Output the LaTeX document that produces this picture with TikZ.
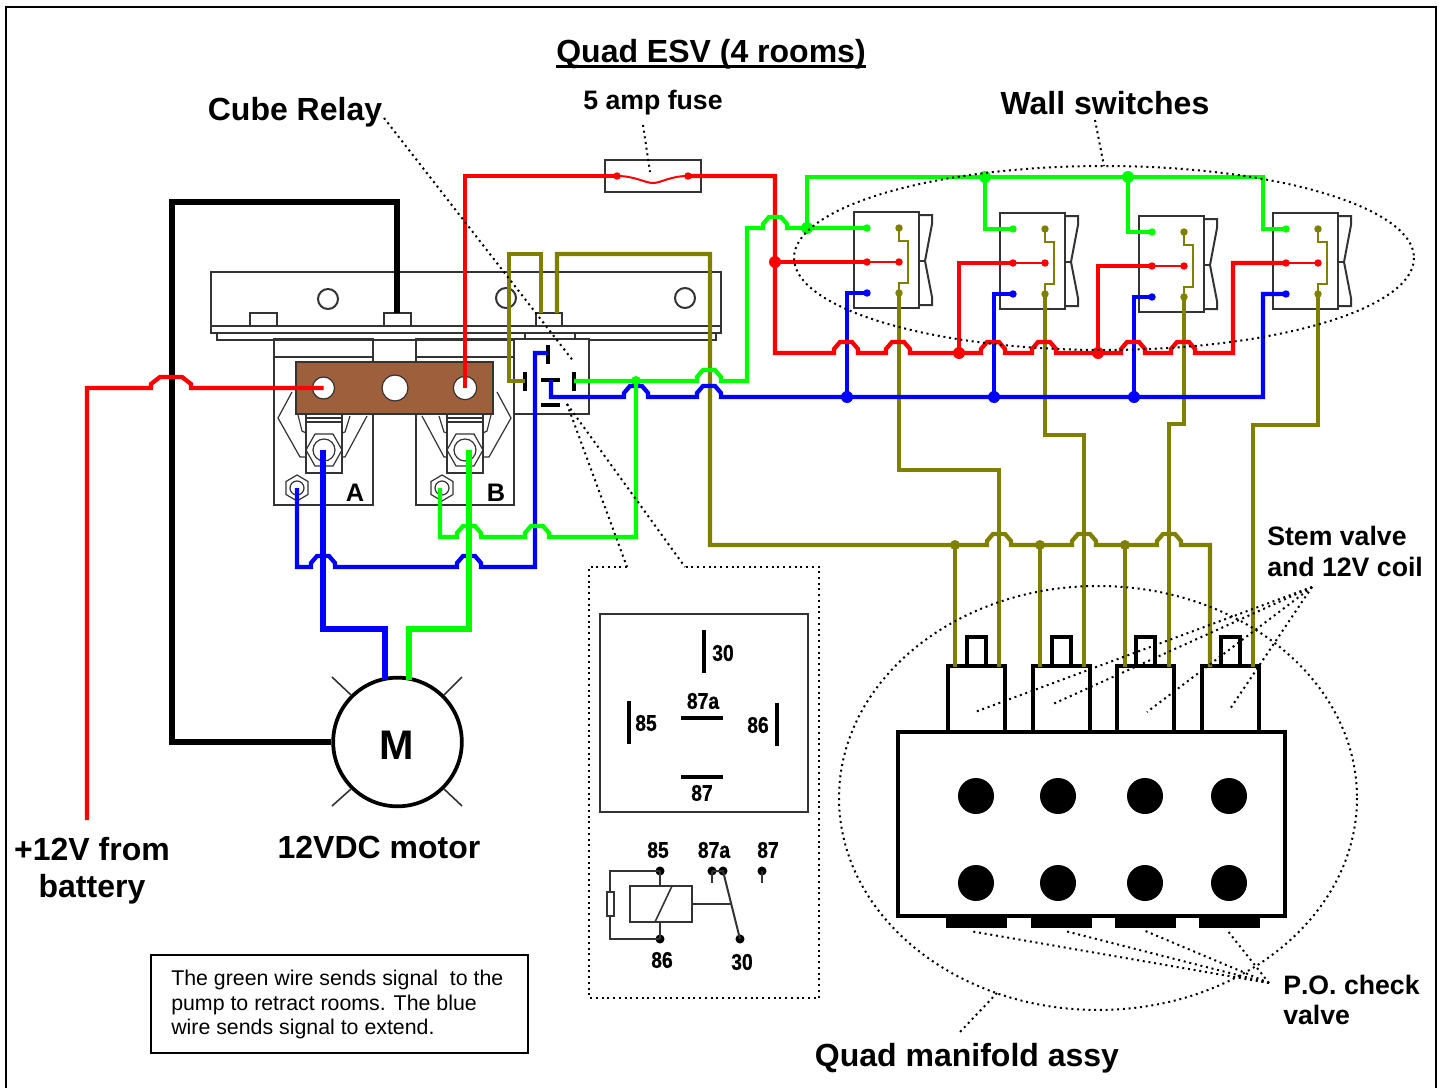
\documentclass[tikz,border=0pt]{standalone}
\usepackage{fontspec}
\setmainfont{Liberation Sans}
\newfontfamily\relayf[FakeStretch=0.85,FakeBold=0.8,UprightFont=* Bold]{Liberation Sans}
\definecolor{wred}{HTML}{FF0000}
\definecolor{wgreen}{HTML}{00FF00}
\definecolor{wblue}{HTML}{0000FF}
\definecolor{wolive}{HTML}{808000}
\definecolor{copper}{HTML}{9E5F3D}
\definecolor{gline}{HTML}{333333}
\newcommand\hop[2]{-- (#1-12,#2) -- (#1-12,#2-4) -- (#1-6,#2-11) -- (#1+6,#2-11) -- (#1+12,#2-4) -- (#1+12,#2)}
\tikzset{
  wire/.style={line width=3.2pt,line join=miter},
  thinw/.style={line width=1.5pt},
  fat/.style={line width=4.6pt,line join=miter},
  outl/.style={draw=gline,line width=1.5pt},
  heavy/.style={draw=black,line width=3pt},
  fine/.style={draw=gline,line width=.9pt},
  dots/.style={draw=black,line width=1.5pt,dash pattern=on 1.5pt off 2.8pt},
  junc/.style={circle,fill=#1,inner sep=0pt,minimum size=9pt},
  term/.style={circle,fill=#1,inner sep=0pt,minimum size=5.6pt},
  rdot/.style={circle,fill=black,inner sep=0pt,minimum size=6.8pt},
  rbar/.style={line width=2.6pt,draw=black},
  lab/.style={font=\bfseries\fontsize{24}{28}\selectfont,anchor=base},
  sub/.style={font=\bfseries\fontsize{20}{24}\selectfont,anchor=base},
  subw/.style={font=\bfseries\fontsize{20}{24}\selectfont,anchor=base west,inner sep=0pt},
  num/.style={font=\relayf\fontsize{17}{20}\selectfont,inner sep=0pt},
  notef/.style={font=\fontsize{16}{19}\selectfont,anchor=base west,inner sep=0pt},
}
\begin{document}
\begin{tikzpicture}[x=.75pt,y=-.75pt]
\useasboundingbox (0,0) rectangle (1443,1088);
% frame
\draw[black,line width=1.6pt] (6,1088) -- (6,7) -- (1436,7) -- (1436,1088);
% bracket
\draw[outl,fill=white] (211,272) rectangle (721,326);
\draw[outl] (211,326) rectangle (721,333);
\draw[outl] (217,333) rectangle (716,340);
\foreach \cx/\cy/\nm in {328/299/ha,506/298/hb,685/298/hc}
  \node[circle,outl,minimum size=15pt,inner sep=0pt] (\nm) at (\cx,\cy) {};
\draw[outl] (250,326) rectangle (277,313);
\draw[outl] (384,326) rectangle (411,313);
\draw[outl] (536,326) rectangle (562,313);
% solenoids
\draw[outl] (274,339) rectangle (373,505);
\draw[outl] (416,339) rectangle (514,505);
\draw[outl] (274,357) -- (373,357) (416,357) -- (514,357);
\foreach \cx/\sx in {324/1,465/-1}{
\begin{scope}[shift={(\cx,0)},xscale=\sx]
  \draw[outl] (-18,414) rectangle (18,473);
  \draw[fine] (-18,418) -- (18,418) (-18,422) -- (18,422);
  \draw[fine] (-32,392) -- (-46,418) -- (-24,457) -- (-18,457);
  \draw[fine] (43,416) -- (21,457) -- (18,457);
  \draw[fine] (-26,415) -- (-22,431) -- (-18,433);
  \draw[fine] (26,416) -- (21,432) -- (18,433);
  \draw[fine] (-9,434) -- (9,434) -- (18,450) -- (9,466) -- (-9,466) -- (-18,450) -- cycle;
  \draw[fine] (0,450) ellipse [x radius=11,y radius=11];
\end{scope}}
\foreach \cx in {297,442}{
  \draw[fine] (\cx,475) -- (\cx+11,481.5) -- (\cx+11,494.5) -- (\cx,501) -- (\cx-11,494.5) -- (\cx-11,481.5) -- cycle;
  \draw[fine] (\cx,488) ellipse [x radius=7,y radius=7];
}
% copper bar
\draw[fill=copper,draw=black!80,line width=1.3pt] (296,362) rectangle (493,414);
\node[circle,draw=black!80,fill=white,line width=.9pt,inner sep=0pt,minimum size=16.5pt] (t1) at (323.5,388) {};
\node[circle,draw=black!80,fill=white,line width=.9pt,inner sep=0pt,minimum size=19.5pt] (t2) at (395,388) {};
\node[circle,draw=black!80,fill=white,line width=.9pt,inner sep=0pt,minimum size=17.5pt] (t3) at (465,388) {};
\node[anchor=base,font=\bfseries\fontsize{19}{22}\selectfont,inner sep=0pt] (la) at (355,501) {A};
\node[anchor=base,font=\bfseries\fontsize{19}{22}\selectfont,inner sep=0pt] (lb) at (496,501) {B};
% relay box
\draw[outl,fill=white] (514,339) rectangle (589,414);
\draw[outl] (525,333) -- (525,339) (575,333) -- (575,339);
\draw[rbar] (548,345) -- (548,364);
\draw[rbar] (525,372) -- (525,391);
\draw[rbar] (574,372) -- (574,391);
\draw[rbar] (541,380) -- (560,380);
\draw[rbar] (541,405) -- (560,405);
% fuse
\node[draw=gline,line width=1.5pt,minimum width=72pt,minimum height=24pt,inner sep=0pt,fill=white] (fuse) at (653,176) {};
% motor
\node[circle,draw=black,line width=2.8pt,fill=white,minimum size=96.5pt,inner sep=0pt] (motor) at (397.5,742) {};
\node[font=\bfseries\fontsize{31}{34}\selectfont,inner sep=0pt] (mlet) at (397,745) {M};
\draw[gline,line width=1.2pt] (332,677) -- (351,695) (462,677) -- (444,695) (332,806) -- (351,789) (462,806) -- (444,789);
% manifold
\foreach \cx in {948,1033,1117,1202}{
  \draw[heavy] (\cx+19,666) -- (\cx+19,637) -- (\cx+38,637) -- (\cx+38,666);
  \draw[heavy,fill=white] (\cx,666) rectangle (\cx+57,732);
}
\draw[heavy,fill=white] (898,732) rectangle (1285,916);
\foreach \cx in {946,1031,1115,1199}
  \fill[black] (\cx,916) rectangle (\cx+61,928);
\foreach \cx in {976,1058,1145,1229}\foreach \cy in {796,883}
  \fill[black] (\cx,\cy) ellipse [x radius=18,y radius=18];
% switches
\foreach \x/\y/\g in {854/212/a,1000/213/b,1139/216/c,1273/213/d}{
  \draw[outl] (\x,\y) rectangle (\x+65,\y+96);
  \draw[outl] (\x+65,\y+3) -- (\x+78,\y+3) -- (\x+78,\y+12) -- (\x+71,\y+49) -- (\x+78,\y+85) -- (\x+78,\y+93) -- (\x+65,\y+93);
  \draw[outl] (\x+65,\y+49) -- (\x+71,\y+49);
  \draw[wolive,thinw] (\x+45,\y+16) -- (\x+45,\y+29) -- (\x+54,\y+29) -- (\x+54,\y+71) -- (\x+45,\y+71) -- (\x+45,\y+81);
  \draw[wred,thinw] (\x+13,\y+50) -- (\x+45,\y+50);
  \node[term=wolive] (ot\g) at (\x+45,\y+16) {};
  \node[term=wolive] (ob\g) at (\x+45,\y+81) {};
  \node[term=wgreen] (gt\g) at (\x+13,\y+16) {};
  \node[term=wred] (rl\g) at (\x+13,\y+50) {};
  \node[term=wred] (rr\g) at (\x+45,\y+50) {};
  \node[term=wblue] (bt\g) at (\x+13,\y+81) {};
}
% junctions
\node[junc=wolive,minimum size=7.5pt] (oj1) at (955,545) {};
\node[junc=wolive,minimum size=7.5pt] (oj2) at (1040,545) {};
\node[junc=wolive,minimum size=7.5pt] (oj3) at (1125,545) {};
\node[junc=wblue] (bj1) at (847,397) {};
\node[junc=wblue] (bj2) at (994,397) {};
\node[junc=wblue] (bj3) at (1134,397) {};
\node[junc=wred] (rj0) at (775,262) {};
\node[junc=wred] (rj1) at (959,353) {};
\node[junc=wred] (rj2) at (1098,353) {};
\node[junc=wgreen] (gj0) at (807,228) {};
\node[junc=wgreen] (gj1) at (985,177) {};
\node[junc=wgreen] (gj2) at (1128,177) {};
\node[junc=wgreen,minimum size=7.5pt] (gj3) at (636,381) {};
\coordinate (pinL) at (525,381);
\coordinate (pinT) at (548,353);
\coordinate (pinC) at (551,380);
\coordinate (pinR) at (574,381);
\coordinate (studL) at (541,313);
\coordinate (studR) at (557,313);
\coordinate (studB) at (397,313);
\coordinate (batt) at (87,820);
\coordinate (hexA) at (297,488);
\coordinate (hexB) at (440,488);
% black
\draw[black,line width=4.3pt] (studB) -- (397,202) -- (172,202) -- (172,742) -- (motor.west);
% olive
\draw[wolive,wire] (pinL) -- (509,381) -- (509,254) -- (541,254) -- (studL);
\draw[wolive,wire] (studR) -- (557,254) -- (710,254) -- (710,545) -- (oj1.center) \hop{999}{545} -- (oj2.center) \hop{1084}{545} -- (oj3.center) \hop{1169}{545} -- (1210,545) -- (1210,667);
\draw[wolive,wire] (oj1.center) -- (955,667);
\draw[wolive,wire] (oj2.center) -- (1040,667);
\draw[wolive,wire] (oj3.center) -- (1125,667);
\draw[wolive,wire] (oba.center) -- (899,470) -- (999,470) -- (999,667);
\draw[wolive,wire] (obb.center) -- (1045,435) -- (1084,435) -- (1084,667);
\draw[wolive,wire] (obc.center) -- (1184,424) -- (1169,424) -- (1169,667);
\draw[wolive,wire] (obd.center) -- (1318,425) -- (1253,425) -- (1253,667);
% blue
\draw[wblue,wire] (hexA) -- (297,567) \hop{323}{567} \hop{469}{567} -- (535,567) -- (535,353) -- (pinT);
\draw[wblue,wire] (pinC) -- (551,397) \hop{636}{397} \hop{709}{397} -- (bj1.center) -- (bj2.center) -- (bj3.center) -- (1263,397) -- (1263,294) -- (btd.center);
\draw[wblue,wire] (bj1.center) -- (847,293) -- (bta.center);
\draw[wblue,wire] (bj2.center) -- (994,294) -- (btb.center);
\draw[wblue,wire] (bj3.center) -- (1134,297) -- (btc.center);
% red
\draw[wred,wire] (batt) -- (87,388) -- (151,388) -- (151,384) -- (160,377) -- (182,377) -- (191,384) -- (191,388) -- (t1.center);
\draw[wred,wire] (t3.center) -- (465,176) -- (617,176);
\draw[wred,wire] (688,176) -- (775,176) -- (rj0.center) -- (775,353) \hop{846}{353} \hop{898}{353} -- (rj1.center) \hop{993}{353} \hop{1044}{353} -- (rj2.center) \hop{1133}{353} \hop{1183}{353} -- (1233,353) -- (1233,263) -- (rld.center);
\draw[wred,wire] (rj0.center) -- (rla.center);
\draw[wred,wire] (rj1.center) -- (959,263) -- (rlb.center);
\draw[wred,wire] (rj2.center) -- (1098,266) -- (rlc.center);
\node[term=wred] (fa) at (617,176) {};
\node[term=wred] (fb) at (688,176) {};
\draw[wred,thinw] (fa.center) .. controls (635,176) and (645,183) .. (653,183) .. controls (661,183) and (670,176) .. (fb.center);
% green
\draw[wgreen,wire] (hexB) -- (440,537) \hop{469}{537} \hop{537}{537} -- (636,537) -- (gj3.center);
\draw[wgreen,wire] (pinR) -- (gj3.center) \hop{709}{381} -- (747,381) -- (747,228) \hop{775}{228} -- (gj0.center) -- (gta.center);
\draw[wgreen,wire] (gj0.center) -- (807,177) -- (gj1.center) -- (gj2.center) -- (1263,177) -- (1263,229) -- (gtd.center);
\draw[wgreen,wire] (gj1.center) -- (985,229) -- (gtb.center);
\draw[wgreen,wire] (gj2.center) -- (1128,232) -- (gtc.center);
% fat motor wires
\coordinate (solA) at (323,450);
\coordinate (solB) at (469,450);
\draw[wblue,fat] (solA) -- (323,629) -- (385,629) -- (385,680);
\draw[wgreen,fat] (solB) -- (469,629) -- (409,629) -- (409,680);
% relay inset
\draw[dots] (627,567) -- (589,567) -- (589,998) -- (819,998) -- (819,567) -- (685,567);
\draw[outl] (600,614) rectangle (808,812);
\draw[rbar] (704,630) -- (704,673);
\draw[rbar] (629,701) -- (629,744);
\draw[rbar] (777,703) -- (777,746);
\draw[rbar] (681,718) -- (723,718);
\draw[rbar] (681,777) -- (723,777);
\node[num] (n30) at (723,653) {30};
\node[num] (n85) at (646,723) {85};
\node[num] (n86) at (758,725) {86};
\node[num] (n87a) at (703,701) {87a};
\node[num] (n87) at (702,793) {87};
\node[num] (m85) at (658,850) {85};
\node[num] (m87a) at (714,850) {87a};
\node[num] (m87) at (768,850) {87};
\node[num] (m86) at (662,960) {86};
\node[num] (m30) at (742,962) {30};
\node[rdot] (d85) at (660,871) {};
\node[rdot] (d86) at (660,939) {};
\node[rdot] (da1) at (712,871) {};
\node[rdot] (da2) at (723,871) {};
\node[rdot] (d87) at (762,871) {};
\node[rdot] (d30) at (740,939) {};
\node[draw=gline,line width=1.5pt,minimum width=46.5pt,minimum height=27pt,inner sep=0pt] (coil) at (661,904) {};
\draw[gline,line width=1.5pt] (d85.center) -- (660,886) (660,922) -- (d86.center);
\draw[gline,line width=1.5pt] (d85.center) -- (610,871) -- (610,939) -- (d86.center);
\node[draw=gline,fill=white,line width=1.5pt,minimum width=5.5pt,minimum height=18pt,inner sep=0pt] (res) at (610.5,904) {};
\draw[gline,line width=1.2pt] (672,886) -- (655,922);
\draw[gline,line width=1.5pt] (coil.east) -- (731,904);
\draw[gline,line width=1.5pt] (da1.center) -- (da2.center) -- (d30.center);
\draw[gline,line width=1.5pt] (da1.center) -- (712,883) (d87.center) -- (762,883);
% note
\node[draw=black,line width=1.5pt,minimum width=282.75pt,minimum height=73.5pt,inner sep=0pt] (note) at (339.5,1004) {};
\node[notef] (n1) at (171,985) {The green wire sends signal \ to the};
\node[notef] (n2) at (171,1010) {pump to retract rooms. The blue};
\node[notef] (n3) at (171,1034) {wire sends signal to extend.};
% labels
\node[lab,inner sep=0pt] (title) at (711,63) {Quad ESV (4 rooms)};
\draw[black,line width=2pt] ([yshift=-2.6pt]title.base west) -- ([yshift=-2.6pt]title.base east);
\node[lab] (cube) at (295,121) {Cube Relay};
\node[sub] (fusel) at (653,109) {5 amp fuse};
\node[lab] (wall) at (1105,114) {Wall switches};
\node[lab] (bat1) at (92,860) {+12V from};
\node[lab] (bat2) at (92,897) {battery};
\node[lab] (mot) at (379,858) {12VDC motor};
\node[subw] (st1) at (1267,545) {Stem valve};
\node[subw] (st2) at (1267,576) {and 12V coil};
\node[subw] (po1) at (1283,994) {\addfontfeature{Kerning=Off}P.O. check};
\node[subw] (po2) at (1283,1024) {valve};
\node[lab] (man) at (967,1066) {Quad manifold assy};
% dotted leaders
\coordinate (sw) at (1104,166);
\coordinate (relayhit) at (567,404);
\coordinate (stem) at (1312,587);
\coordinate (pocv) at (1269,983);
\draw[dots] (1104,258) ellipse [x radius=310,y radius=92];
\draw[dots] (1098,798) ellipse [x radius=259,y radius=212];
\draw[dots] (384,118) -- (574,362);
\draw[dots] (1095,120) -- (sw);
\draw[dots] (643,125) -- (650,172);
\draw[dots] (relayhit) -- (627,567);
\draw[dots] (relayhit) -- (685,567);
\draw[dots] (stem) -- (975,712);
\draw[dots] (stem) -- (1053,704);
\draw[dots] (stem) -- (1147,712);
\draw[dots] (stem) -- (1230,709);
\draw[dots] (pocv) -- (970,931);
\draw[dots] (pocv) -- (1065,931);
\draw[dots] (pocv) -- (1143,930);
\draw[dots] (pocv) -- (1227,930);
\draw[dots] (997,993) -- (959,1033);
\end{tikzpicture}
\end{document}
